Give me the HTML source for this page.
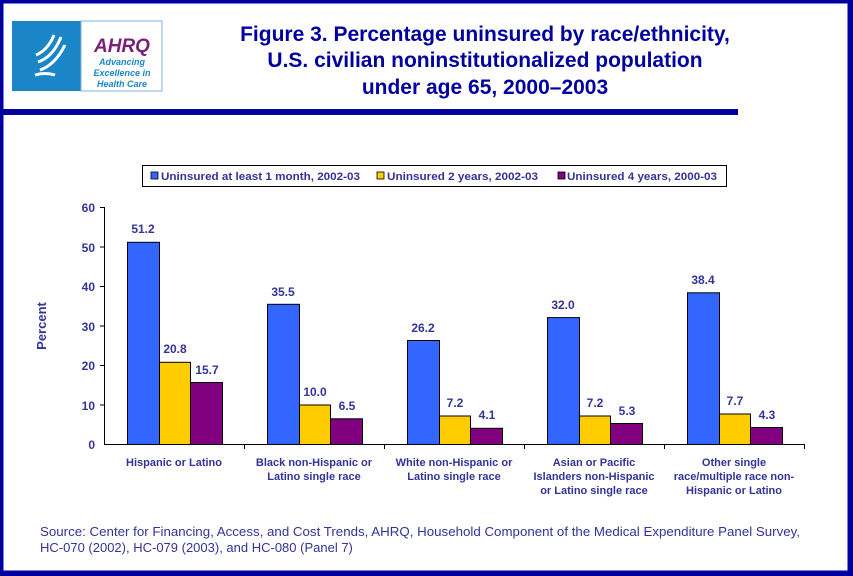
<!DOCTYPE html>
<html><head><meta charset="utf-8"><style>
body{margin:0;background:#fff}
svg{display:block}
</style></head><body>
<svg width="853" height="576" xmlns="http://www.w3.org/2000/svg" font-family="Liberation Sans, Arial, sans-serif">
<rect x="0" y="0" width="853" height="576" fill="#fff"/>
<rect x="1.5" y="1.5" width="848" height="571" fill="none" stroke="#0000A0" stroke-width="4"/>
<rect x="849" y="0" width="4" height="576" fill="#0000A0"/>
<rect x="0" y="572" width="853" height="4" fill="#0000A0"/>
<rect x="0" y="109" width="738" height="6" fill="#0000A0"/>
<rect x="12" y="21" width="69" height="70" fill="#1A86C8"/>
<path d="M40 70 q15 -5 25 -25 M38 62 q15 -5 23 -25 M36 55 q12 -5 18 -20 M35 75 q10 -3 20 0" stroke="#fff" stroke-width="3" fill="none"/>
<rect x="81" y="21" width="81" height="70" fill="#fff" stroke="#7fb3d9" stroke-width="1"/>
<text x="122" y="52" text-anchor="middle" font-size="19" font-weight="bold" font-style="italic" fill="#7B1E7A">AHRQ</text>
<text x="122" y="65" text-anchor="middle" font-size="9" font-weight="bold" font-style="italic" fill="#1A86C8">Advancing</text>
<text x="122" y="76" text-anchor="middle" font-size="9" font-weight="bold" font-style="italic" fill="#1A86C8">Excellence in</text>
<text x="122" y="87" text-anchor="middle" font-size="9" font-weight="bold" font-style="italic" fill="#1A86C8">Health Care</text>
<g font-size="21" font-weight="bold" fill="#0000A0" text-anchor="middle">
<text x="485" y="41">Figure 3. Percentage uninsured by race/ethnicity,</text>
<text x="485" y="67">U.S. civilian noninstitutionalized population</text>
<text x="485" y="94">under age 65, 2000–2003</text>
</g>
<rect x="142.5" y="165.5" width="584" height="21" fill="#fff" stroke="#000"/>
<g font-size="11" font-weight="bold" fill="#333399">
<rect x="151" y="172" width="7" height="7" fill="#3366FF" stroke="#000" stroke-width="0.8"/>
<text x="161" y="180" textLength="199" lengthAdjust="spacingAndGlyphs">Uninsured at least 1 month, 2002-03</text>
<rect x="377" y="172" width="7" height="7" fill="#FFCC00" stroke="#000" stroke-width="0.8"/>
<text x="387" y="180" textLength="151" lengthAdjust="spacingAndGlyphs">Uninsured 2 years, 2002-03</text>
<rect x="558" y="172" width="7" height="7" fill="#800080" stroke="#000" stroke-width="0.8"/>
<text x="567" y="180" textLength="150" lengthAdjust="spacingAndGlyphs">Uninsured 4 years, 2000-03</text>
</g>
<g stroke="#000" stroke-width="1">
<line x1="104.5" y1="207" x2="104.5" y2="445"/>
<line x1="104" y1="444.5" x2="805" y2="444.5"/>
<line x1="100" y1="207.5" x2="104" y2="207.5"/>
<line x1="100" y1="247" x2="104" y2="247"/>
<line x1="100" y1="286.5" x2="104" y2="286.5"/>
<line x1="100" y1="326" x2="104" y2="326"/>
<line x1="100" y1="365.5" x2="104" y2="365.5"/>
<line x1="100" y1="405" x2="104" y2="405"/>
<line x1="244.5" y1="444" x2="244.5" y2="449"/>
<line x1="384.5" y1="444" x2="384.5" y2="449"/>
<line x1="524.5" y1="444" x2="524.5" y2="449"/>
<line x1="664.5" y1="444" x2="664.5" y2="449"/>
<line x1="804.5" y1="444" x2="804.5" y2="449"/>
</g>
<g font-size="12" font-weight="bold" fill="#333399" text-anchor="end">
<text x="95" y="212">60</text><text x="95" y="252">50</text><text x="95" y="291">40</text>
<text x="95" y="331">30</text><text x="95" y="370">20</text><text x="95" y="410">10</text><text x="95" y="449">0</text>
</g>
<text transform="translate(46,326) rotate(-90)" text-anchor="middle" font-size="13" font-weight="bold" fill="#333399">Percent</text>
<g stroke="#000" stroke-width="1">
<rect x="127.5" y="242.3" width="32" height="202.2" fill="#3366FF"/>
<rect x="159.5" y="362.3" width="31" height="82.2" fill="#FFCC00"/>
<rect x="190.5" y="382.5" width="32" height="62" fill="#800080"/>
<rect x="267.5" y="304.3" width="32" height="140.2" fill="#3366FF"/>
<rect x="299.5" y="405" width="31" height="39.5" fill="#FFCC00"/>
<rect x="330.5" y="418.8" width="32" height="25.7" fill="#800080"/>
<rect x="407.5" y="340.5" width="32" height="104" fill="#3366FF"/>
<rect x="439.5" y="416" width="31" height="28.5" fill="#FFCC00"/>
<rect x="470.5" y="428.3" width="32" height="16.2" fill="#800080"/>
<rect x="547.5" y="317.6" width="32" height="126.9" fill="#3366FF"/>
<rect x="579.5" y="416" width="31" height="28.5" fill="#FFCC00"/>
<rect x="610.5" y="423.5" width="32" height="21" fill="#800080"/>
<rect x="687.5" y="292.8" width="32" height="151.7" fill="#3366FF"/>
<rect x="719.5" y="414" width="31" height="30.5" fill="#FFCC00"/>
<rect x="750.5" y="427.5" width="32" height="17" fill="#800080"/>
</g>
<g font-size="12" font-weight="bold" fill="#333399" text-anchor="middle">
<text x="143" y="233">51.2</text><text x="175" y="353">20.8</text><text x="207" y="374">15.7</text>
<text x="283" y="296">35.5</text><text x="315" y="396">10.0</text><text x="347" y="410">6.5</text>
<text x="423" y="332">26.2</text><text x="455" y="407">7.2</text><text x="487" y="419">4.1</text>
<text x="563" y="309">32.0</text><text x="595" y="407">7.2</text><text x="627" y="415">5.3</text>
<text x="703" y="284">38.4</text><text x="735" y="405">7.7</text><text x="767" y="419">4.3</text>
</g>
<g font-size="11" font-weight="bold" fill="#333399" text-anchor="middle">
<text x="174" y="466">Hispanic or Latino</text>
<text x="314" y="466">Black non-Hispanic or</text><text x="314" y="480">Latino single race</text>
<text x="454" y="466">White non-Hispanic or</text><text x="454" y="480">Latino single race</text>
<text x="594" y="466">Asian or Pacific</text><text x="594" y="480">Islanders non-Hispanic</text><text x="594" y="494">or Latino single race</text>
<text x="734" y="466">Other single</text><text x="734" y="480">race/multiple race non-</text><text x="734" y="494">Hispanic or Latino</text>
</g>
<g font-size="13" fill="#333399">
<text x="40" y="536" textLength="760" lengthAdjust="spacingAndGlyphs">Source: Center for Financing, Access, and Cost Trends, AHRQ, Household Component of the Medical Expenditure Panel Survey,</text>
<text x="40" y="552">HC-070 (2002), HC-079 (2003), and HC-080 (Panel 7)</text>
</g>
</svg>
</body></html>
